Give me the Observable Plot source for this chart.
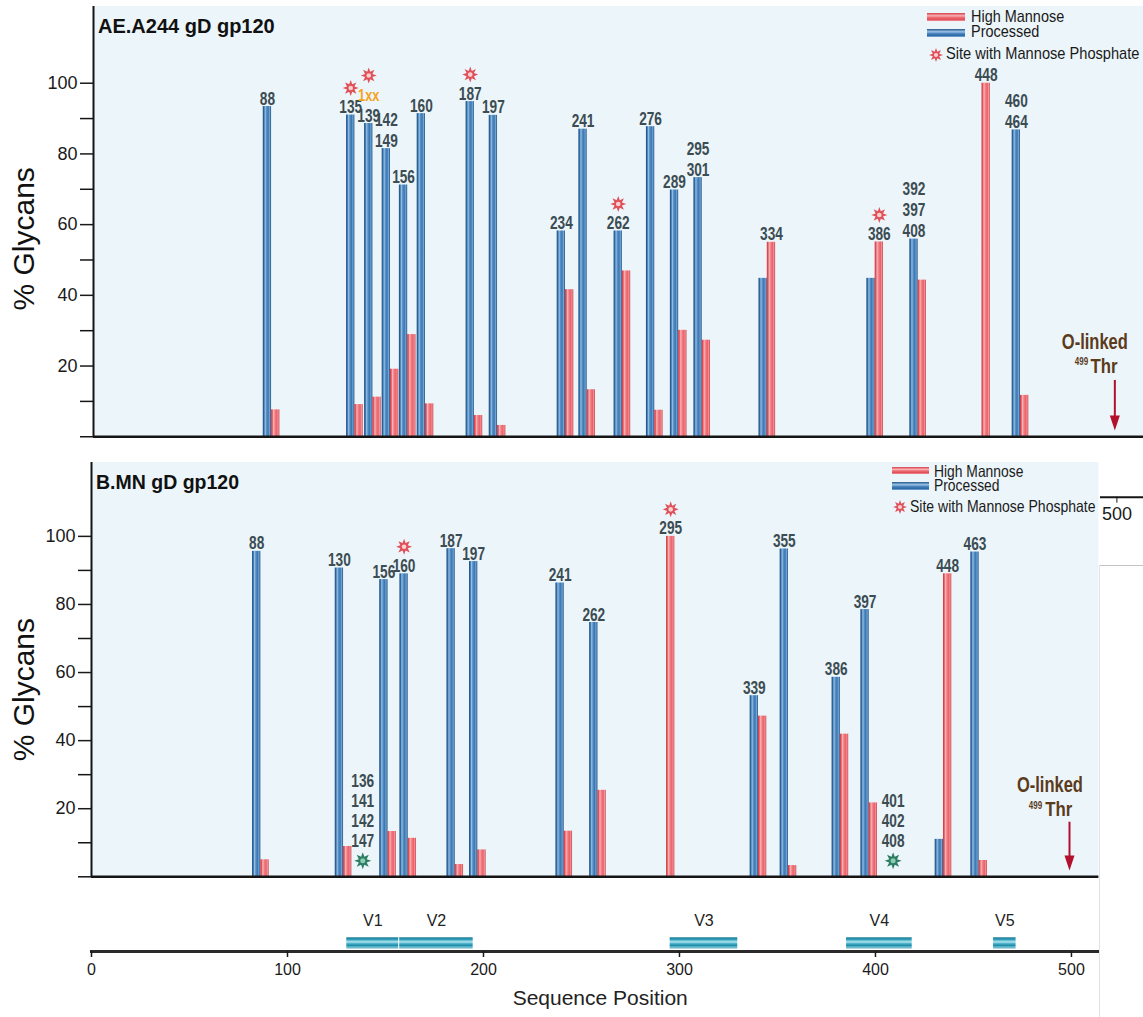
<!DOCTYPE html>
<html>
<head>
<meta charset="utf-8">
<script src="https://cdn.jsdelivr.net/npm/d3@7"></script>
<script src="https://cdn.jsdelivr.net/npm/@observablehq/plot@0.6"></script>
<style>
  html,body{margin:0;padding:0;background:#fff;}
  #fig{position:relative;width:1143px;height:1017px;overflow:hidden;font-family:"Liberation Sans",Arial,sans-serif;color:#1a1a1a;}
  #fig > *{position:absolute;}
  .lg{white-space:nowrap;line-height:0.85;display:inline-block;transform-origin:0 50%;}
  .sw{height:7.5px;}
  .sw.red{background:linear-gradient(to bottom,#d63f4a 0%,#f7b1b4 35%,#ee6d74 55%,#e2505a 80%,#f19296 100%);}
  .sw.blue{background:linear-gradient(to bottom,#22578c 0%,#9cc4e6 35%,#4d86c0 55%,#2d68a3 80%,#7eb0dc 100%);}
</style>
</head>
<body>
<div id="fig"></div>
<script>
// ================= DATA =================
// Panel A: AE.A244 gD gp120
const aTitle = "AE.A244 gD gp120";
const aLabels = ["88","135","139","142\n149","156","160","187","197","234","241","262","276","289","295\n301","334","386","392\n397\n408","448","460\n464"];
const aPos = [87.0,127.7,136.5,145.1,153.5,162.2,186.1,197.4,230.6,241.2,258.4,274.2,285.9,297.4,329.2,381.9,402.9,434.1,452.9];
const aProcessed = [93.4,91.0,88.6,81.5,71.2,91.4,94.8,90.9,58.2,87.0,58.2,87.7,69.8,73.3,44.8,44.8,55.9,0,86.8];
const aHighMannose = [7.6,9.1,11.2,19.1,28.9,9.3,6.0,3.2,41.6,13.3,46.9,7.5,30.1,27.3,55.0,55.1,44.3,100,11.7];
const aPhosphate = ["135","139","187","262","386"];
const aNoteSite = "139";
const aNoteText = "1xx";

// Panel B: B.MN gD gp120
const bTitle = "B.MN gD gp120";
const bLabels = ["88","130","156","160","187","197","241","262","295","339","355","386","397","448","463"];
const bPos = [86.4,128.6,151.3,161.6,185.6,197.1,241.2,258.4,293.4,340.3,355.6,382.1,396.8,434.7,452.9];
const bProcessed = [95.6,90.7,87.3,89.0,96.4,92.6,86.3,74.7,0,53.2,96.3,58.6,78.5,11.0,95.4];
const bHighMannose = [5.0,8.9,13.3,11.3,3.6,7.9,13.4,25.4,100,47.2,3.3,41.9,21.7,89.0,4.8];
const bPhosphate = ["160","295"];
const bUnoccLabels = ["136\n141\n142\n147","401\n402\n408"];
const bUnoccPos = [138.4,409.0];

// Variable regions
const vNames = ["V1","V2","V3","V4","V5"];
const vStart = [130,157,295,385,460];
const vEnd = [157,195,330,419,472];

// Ticks, annotations, legend
const yTicks = [0,10,20,30,40,50,60,70,80,90,100];
const yTickLabels = [20,40,60,80,100];
const xTicks = [0,100,200,300,400,500];
const oSite = 499;
const oText = "O-linked", oSup = "499", oRes = "Thr";
const legendItems = ["High Mannose","Processed","Site with Mannose Phosphate"];
const yLabel = "% Glycans";
const xLabel = "Sequence Position";

// ================= STYLE =================
const FONT = '"Liberation Sans", Arial, Helvetica, sans-serif';
const narrowFont = s => `${FONT}, narrow${Math.round(s * 100)}`;
const BW = 8.3, LFS = 18, LH = 21, LBL = "#3b4c53", BG = "#ecf5f9";
const RED_STAR = "#e0505a", RED_STAR_C = "#fbd0cf", GREEN_STAR = "#2c7d63", GREEN_STAR_C = "#8ccdb1";
const ORANGE = "#f5a21b", BROWN = "#5b3b1b", ARROW = "#b3102d", INK = "#151515";

function burst(n, k) {
  return {draw(ctx, size) {
    const R = Math.sqrt(size / Math.PI), r = R * k;
    for (let i = 0; i < 2 * n; ++i) {
      const a = Math.PI * i / n - Math.PI / 2, rr = i % 2 ? r : R;
      const px = rr * Math.cos(a), py = rr * Math.sin(a);
      if (i) ctx.lineTo(px, py); else ctx.moveTo(px, py);
    }
    ctx.closePath();
  }};
}
const STAR = burst(8, 0.5);
const HEAD = {draw(ctx, size) {
  const R = Math.sqrt(size / Math.PI);
  ctx.moveTo(0, R); ctx.lineTo(-0.67 * R, -R); ctx.lineTo(0.67 * R, -R); ctx.closePath();
}};

function rows(labels, pos, proc, hm) {
  return labels.map((label, i) => ({
    label, site: label.split("\n")[0], pos: pos[i], proc: proc[i], hm: hm[i],
    top: Math.max(proc[i], hm[i]), blue: proc[i] >= hm[i], lines: label.split("\n").length
  }));
}
function atTop(data, mk, opts) {
  const dx = opts.dx || 0;
  return [
    mk(data.filter(d => d.blue), {x: "pos", y: "top", ...opts, dx: dx - BW / 2}),
    mk(data.filter(d => !d.blue), {x: "pos", y: "top", ...opts, dx: dx + BW / 2})
  ];
}
function stars(data, dy) {
  return [
    ...atTop(data, Plot.dot, {symbol: STAR, r: 8, fill: RED_STAR, dy}),
    ...atTop(data, Plot.dot, {r: 2.3, fill: RED_STAR_C, dy})
  ];
}
function panelMarks(data, phos, note, yMax, p) {
  const starDy = n => -(2 + n * LH + 4);
  const starRows = data.filter(d => phos.includes(d.site));
  const noted = note ? data.filter(d => d.site === note.site) : [];
  const plain = starRows.filter(d => !noted.includes(d));
  const marks = [
    Plot.rect([0], {y1: 0, y2: yMax, fill: BG}),
    Plot.rect(data.filter(d => d.proc > 0), {x1: "pos", x2: "pos", y1: 0, y2: "proc", insetLeft: -BW, insetRight: 0, fill: `url(#${p}Blue)`}),
    Plot.rect(data.filter(d => d.hm > 0), {x1: "pos", x2: "pos", y1: 0, y2: "hm", insetLeft: 0, insetRight: -BW, fill: `url(#${p}Red)`}),
    Plot.ruleY([0], {stroke: INK, strokeWidth: 2.5}),
    Plot.ruleX([0], {y1: 0, y2: yMax, stroke: INK, strokeWidth: 2}),
    Plot.ruleY(yTicks.filter(d => !yTickLabels.includes(d)), {x1: 0, x2: 0, insetLeft: -13, stroke: INK, strokeWidth: 1.5}),
    Plot.axisY({ticks: yTickLabels, tickSize: 13, tickPadding: 3, strokeWidth: 1.5, fontSize: 18, label: null, tickFormat: d => String(d)}),
    ...atTop(data, Plot.text, {text: "label", lineAnchor: "bottom", dy: -2, fontSize: LFS, lineHeight: LH / LFS,
      fontWeight: "bold", fill: LBL, fontFamily: narrowFont(0.76)})
  ];
  for (const [n, grp] of d3.group(plain, d => d.lines)) marks.push(...stars(grp, starDy(n)));
  for (const [n, grp] of d3.group(noted, d => d.lines)) {
    marks.push(...atTop(grp, Plot.text, {text: () => note.text, lineAnchor: "bottom", dy: -2 - n * LH, fontSize: 16,
      fontWeight: "bold", fill: ORANGE, fontFamily: narrowFont(0.8)}));
    const ph = grp.filter(d => phos.includes(d.site));
    if (ph.length) marks.push(...stars(ph, starDy(n + 1)));
  }
  return marks;
}
function oMarks(c) {
  return [
    Plot.ruleX([oSite], {x: d => d, y1: 0, y2: 0, insetTop: c.lineTop, insetBottom: 18, stroke: ARROW, strokeWidth: 2}),
    Plot.dot([oSite], {x: d => d, y: 0, symbol: HEAD, r: 7.5, fill: ARROW, dy: -13.8}),
    Plot.text([oSite], {x: d => d, y: 0, text: () => oText, dx: c.odx, dy: c.ody, fontSize: 22, fontWeight: "bold", fill: BROWN, fontFamily: narrowFont(0.75)}),
    Plot.text([oSite], {x: d => d, y: 0, text: () => oRes, textAnchor: "end", dx: c.tdx, dy: c.tdy, fontSize: 21, fontWeight: "bold", fill: BROWN, fontFamily: narrowFont(0.8)}),
    Plot.text([oSite], {x: d => d, y: 0, text: () => oSup, textAnchor: "end", dx: c.sdx, dy: c.sdy, fontSize: 10, fontWeight: "bold", fill: BROWN, fontFamily: narrowFont(0.8)})
  ];
}
function yLabelMark(dx, dy) {
  return Plot.text([yLabel], {text: d => d, frameAnchor: "left", textAnchor: "middle", rotate: -90, dx, dy, fontSize: 30, fill: "#111"});
}
function addDefs(svg, p) {
  const defs = d3.select(svg).insert("defs", ":first-child");
  const grad = (id, horiz, stops) => {
    const g = defs.append("linearGradient").attr("id", p + id)
      .attr("x1", 0).attr("y1", 0).attr("x2", horiz ? 1 : 0).attr("y2", horiz ? 0 : 1);
    stops.forEach(([o, c]) => g.append("stop").attr("offset", o).attr("stop-color", c));
  };
  grad("Blue", true, [[0,"#1d4d80"],[0.14,"#2f6aa4"],[0.3,"#93bfe3"],[0.45,"#5a90c6"],[0.65,"#3a76b2"],[0.82,"#6fa4d3"],[1,"#1f5085"]]);
  grad("Red", true, [[0,"#c9363f"],[0.14,"#e4545d"],[0.3,"#f8b2b5"],[0.5,"#f07a80"],[0.7,"#eb626a"],[0.85,"#f39499"],[1,"#c93a44"]]);
  grad("Teal", false, [[0,"#17768f"],[0.2,"#2f9fbb"],[0.42,"#b5e6ef"],[0.58,"#45aec8"],[0.76,"#1e8aa6"],[0.9,"#86d2e2"],[1,"#17768f"]]);
}
// horizontally condense texts whose mark font-family carries a "narrowNN" marker
function narrowText(svg) {
  svg.querySelectorAll("g[font-family*='narrow']").forEach(g => {
    const m = g.getAttribute("font-family").match(/narrow(\d+)/);
    const s = +m[1] / 100;
    g.querySelectorAll("text").forEach(t => {
      const tr = t.getAttribute("transform") || "";
      t.setAttribute("transform", `${tr} scale(${s},1)`);
    });
  });
}
const baseStyle = {fontFamily: FONT, fontSize: "18px", color: "#1a1a1a", background: "white"};
const fig = document.getElementById("fig");
function place(el, left, top) { el.style.position = "absolute"; el.style.left = left + "px"; el.style.top = top + "px"; fig.appendChild(el); }

// ================= PANEL A =================
const A = rows(aLabels, aPos, aProcessed, aHighMannose);
const yMaxA = 121.7, yMinA = -17.1;
const plotA = Plot.plot({
  width: 1143, height: 530, marginLeft: 93, marginRight: 0, marginTop: 6, marginBottom: 33.3,
  x: {domain: [0, 513], label: null}, y: {domain: [yMinA, yMaxA], label: null},
  style: baseStyle,
  marks: [
    Plot.frame({anchor: "bottom", strokeWidth: 2, stroke: INK}),
    Plot.axisX({ticks: xTicks.slice(-1), tickSize: 6, tickPadding: 4, fontSize: 18, label: null}),
    ...panelMarks(A, aPhosphate, {site: aNoteSite, text: aNoteText}, yMaxA, "a"),
    ...oMarks({lineTop: -56.3, odx: -20, ody: -94.6, tdx: 2.6, tdy: -70.5, sdx: -26.7, sdy: -75}),
    yLabelMark(-69, -13)
  ]
});
addDefs(plotA, "a"); narrowText(plotA); place(plotA, 0, 0);

// ================= PANEL B =================
const B = rows(bLabels, bPos, bProcessed, bHighMannose);
const U = bUnoccLabels.map((label, i) => ({label, pos: bUnoccPos[i]}));
const yMaxB = 121.7;
const plotB = Plot.plot({
  width: 1100, height: 430, marginLeft: 91, marginRight: 1.6, marginTop: 12, marginBottom: 3.7,
  x: {domain: [0, 514], axis: null, label: null}, y: {domain: [0, yMaxB], label: null},
  style: baseStyle,
  marks: [
    ...panelMarks(B, bPhosphate, null, yMaxB, "b"),
    Plot.text(U, {x: "pos", y: 0, text: "label", lineAnchor: "bottom", dy: -30, fontSize: LFS, lineHeight: 20 / LFS,
      fontWeight: "bold", fill: LBL, fontFamily: narrowFont(0.76)}),
    Plot.dot(U, {x: "pos", y: 0, symbol: STAR, r: 8.5, fill: GREEN_STAR, dy: -16}),
    Plot.dot(U, {x: "pos", y: 0, r: 2.5, fill: GREEN_STAR_C, dy: -16}),
    ...oMarks({lineTop: -54.6, odx: -19.6, ody: -91.8, tdx: 2.7, tdy: -67.1, sdx: -27.3, sdy: -71.3}),
    yLabelMark(-67, 20)
  ]
});
addDefs(plotB, "b"); narrowText(plotB); place(plotB, 0, 450);

// ================= REGION AXIS =================
const V = vNames.map((name, i) => ({name, start: vStart[i], end: vEnd[i]}));
const plotC = Plot.plot({
  width: 1100, height: 137, marginLeft: 91, marginRight: 1.6, marginTop: 0, marginBottom: 66,
  x: {domain: [0, 514], label: null},
  style: baseStyle,
  marks: [
    Plot.rect(V, {x1: "start", x2: "end", insetTop: 57.3, insetBottom: 2.7, insetLeft: 0.5, insetRight: 0.5, fill: "url(#cTeal)"}),
    Plot.text(V, {x: d => (d.start + d.end) / 2, text: "name", frameAnchor: "bottom", dy: -26, fontSize: 16, fill: "#222"}),
    Plot.frame({anchor: "bottom", strokeWidth: 3, stroke: "#2a2a2a"}),
    Plot.axisX({ticks: xTicks, tickSize: 6, tickPadding: 6, fontSize: 16, strokeWidth: 1.5, label: null}),
    Plot.text([xLabel], {text: d => d, frameAnchor: "bottom", dy: 53, dx: 5, fontSize: 21, fill: "#222"})
  ]
});
addDefs(plotC, "c"); narrowText(plotC); place(plotC, 0, 880);

// ================= ARTIFACT LINES (right edge) =================
const hl = document.createElement("div");
Object.assign(hl.style, {width: "44px", height: "0px", borderTop: "1px solid #c4c4c4"}); place(hl, 1099, 564.5);
const vl = document.createElement("div");
Object.assign(vl.style, {width: "0px", height: "452px", borderLeft: "1px solid #e2e2e2"}); place(vl, 1099, 565);

// ================= TITLES & LEGENDS (HTML) =================
function addText(txt, left, cy, fs, o = {}) {
  const s = document.createElement("span");
  s.className = "lg"; s.textContent = txt;
  Object.assign(s.style, {fontSize: fs + "px", fontWeight: o.weight || "normal", color: o.color || "#1a1a1a",
    transform: `scaleX(${o.sx || 1})`});
  place(s, left, cy - 0.4135 * fs);
}
function addSwatch(cls, left, cy, w) {
  const d = document.createElement("div");
  d.className = "sw " + cls; d.style.width = w + "px";
  place(d, left, cy - 3.75);
}
function addStar(cx, cy, r) {
  const ns = "http://www.w3.org/2000/svg";
  const s = document.createElementNS(ns, "svg");
  const sz = 2 * r + 2;
  s.setAttribute("width", sz); s.setAttribute("height", sz);
  const g = document.createElementNS(ns, "g");
  g.setAttribute("transform", `translate(${sz / 2},${sz / 2})`);
  const p = document.createElementNS(ns, "path");
  p.setAttribute("d", d3.symbol(STAR, Math.PI * r * r)()); p.setAttribute("fill", RED_STAR);
  const c = document.createElementNS(ns, "circle");
  c.setAttribute("r", r * 0.3); c.setAttribute("fill", RED_STAR_C);
  g.appendChild(p); g.appendChild(c); s.appendChild(g);
  place(s, cx - sz / 2, cy - sz / 2);
}
addText(aTitle, 98, 26.7, 20, {weight: "bold", color: "#111"});
addText(bTitle, 96, 482.5, 19.5, {weight: "bold", color: "#111"});

// top legend
addSwatch("red", 926.5, 17, 38.5);
addText(legendItems[0], 970.8, 16.7, 17, {sx: 0.85});
addSwatch("blue", 926.5, 33, 38.5);
addText(legendItems[1], 970.8, 32.5, 17, {sx: 0.85});
addStar(936, 55, 7);
addText(legendItems[2], 945.8, 54.5, 17, {sx: 0.86});

// bottom legend
addSwatch("red", 892, 470.7, 36.5);
addText(legendItems[0], 934, 470.7, 16.5, {sx: 0.84});
addSwatch("blue", 892, 485.8, 36.5);
addText(legendItems[1], 934, 485.3, 16.5, {sx: 0.84});
addStar(900.4, 506.5, 7);
addText(legendItems[2], 910, 506, 16.5, {sx: 0.85});
</script>
</body>
</html>
